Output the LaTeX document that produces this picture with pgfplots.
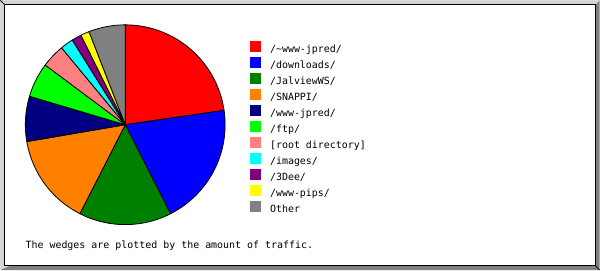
\documentclass[border=0pt]{standalone}
\usepackage{pgfplots}
\pgfplotsset{compat=1.18}
\usepackage{fontspec}
\newfontfamily\monofont{DejaVu Sans Mono}

\definecolor{framelight}{HTML}{D4D4D4}
\definecolor{framedark}{HTML}{808080}
\definecolor{cJpred}{HTML}{FF0000}
\definecolor{cDownloads}{HTML}{0000FF}
\definecolor{cJalview}{HTML}{008000}
\definecolor{cSnappi}{HTML}{FF8000}
\definecolor{cWwwJpred}{HTML}{000080}
\definecolor{cFtp}{HTML}{00FF00}
\definecolor{cRoot}{HTML}{FF8080}
\definecolor{cImages}{HTML}{00FFFF}
\definecolor{cThreeDee}{HTML}{800080}
\definecolor{cPips}{HTML}{FFFF00}
\definecolor{cOther}{HTML}{808080}

% running start angle (degrees, clockwise from 12 o'clock)
\gdef\pieacc{0}
% #1 = share of traffic in percent, #2 = colour, #3 = legend text
\newcommand\pieslice[3]{%
  \pgfmathsetmacro\sliceA{\pieacc}%
  \pgfmathsetmacro\sliceB{\pieacc+3.6*#1}%
  \xdef\pieacc{\sliceB}%
  \edef\slicecmd{\noexpand\addplot[slice, fill=#2, domain=\sliceA:\sliceB]
    ({125+100*sin(x)},{145.5+100*cos(x)}) -- (axis cs:125,145.5) -- cycle;}%
  \slicecmd
  \addlegendentry{#3}%
}

\begin{document}
\begin{tikzpicture}
\begin{axis}[
  width=600bp, height=270bp, scale only axis,
  xmin=0, xmax=600, ymin=0, ymax=270,
  hide axis, clip=false,
  slice/.style={draw=black, line width=0.8bp, samples=80, line join=round},
  legend image code/.code={\fill[#1, draw=none] (0bp,-5.5bp) rectangle (11bp,5.5bp);},
  legend style={at={(axis cs:250,229)}, anchor=north west, draw=none, fill=none,
    inner sep=0pt, outer sep=0pt, row sep=5bp, column sep=9bp,
    font=\monofont\fontsize{10}{12}\selectfont,
    nodes={inner sep=0pt, outer sep=0pt, text height=11bp, text depth=0bp}},
  legend cell align=left,
]
% bevelled frame
\fill[framelight] (axis cs:0,0) -- (axis cs:0,270) -- (axis cs:600,270) -- cycle;
\fill[framedark] (axis cs:0,0) -- (axis cs:600,0) -- (axis cs:600,270) -- cycle;
\fill[framelight] (axis cs:0,270) -- (axis cs:600,270) -- (axis cs:596,266) -- (axis cs:4,266) -- (axis cs:4,4) -- (axis cs:0,0) -- cycle;
\fill[white, draw=black, line width=1bp] (axis cs:4.5,4.5) rectangle (axis cs:595.5,265.5);
\draw[black, line width=0.8bp] (axis cs:0,270) -- (axis cs:4.5,265.5);
\draw[black, line width=0.8bp] (axis cs:600,0) -- (axis cs:595.5,4.5);

\pieslice{22.7}{cJpred}{/\textasciitilde www-jpred/}
\pieslice{19.8}{cDownloads}{/downloads/}
\pieslice{15.0}{cJalview}{/JalviewWS/}
\pieslice{14.8}{cSnappi}{/SNAPPI/}
\pieslice{7.3}{cWwwJpred}{/www-jpred/}
\pieslice{5.6}{cFtp}{/ftp/}
\pieslice{3.8}{cRoot}{[root directory]}
\pieslice{2.1}{cImages}{/images/}
\pieslice{1.6}{cThreeDee}{/3Dee/}
\pieslice{1.4}{cPips}{/www-pips/}
\pieslice{5.9}{cOther}{Other}

\node[anchor=base west, inner sep=0pt, font=\monofont\fontsize{10}{12}\selectfont]
  at (axis cs:25,22) {The wedges are plotted by the amount of traffic.};
\end{axis}
\end{tikzpicture}
\end{document}
